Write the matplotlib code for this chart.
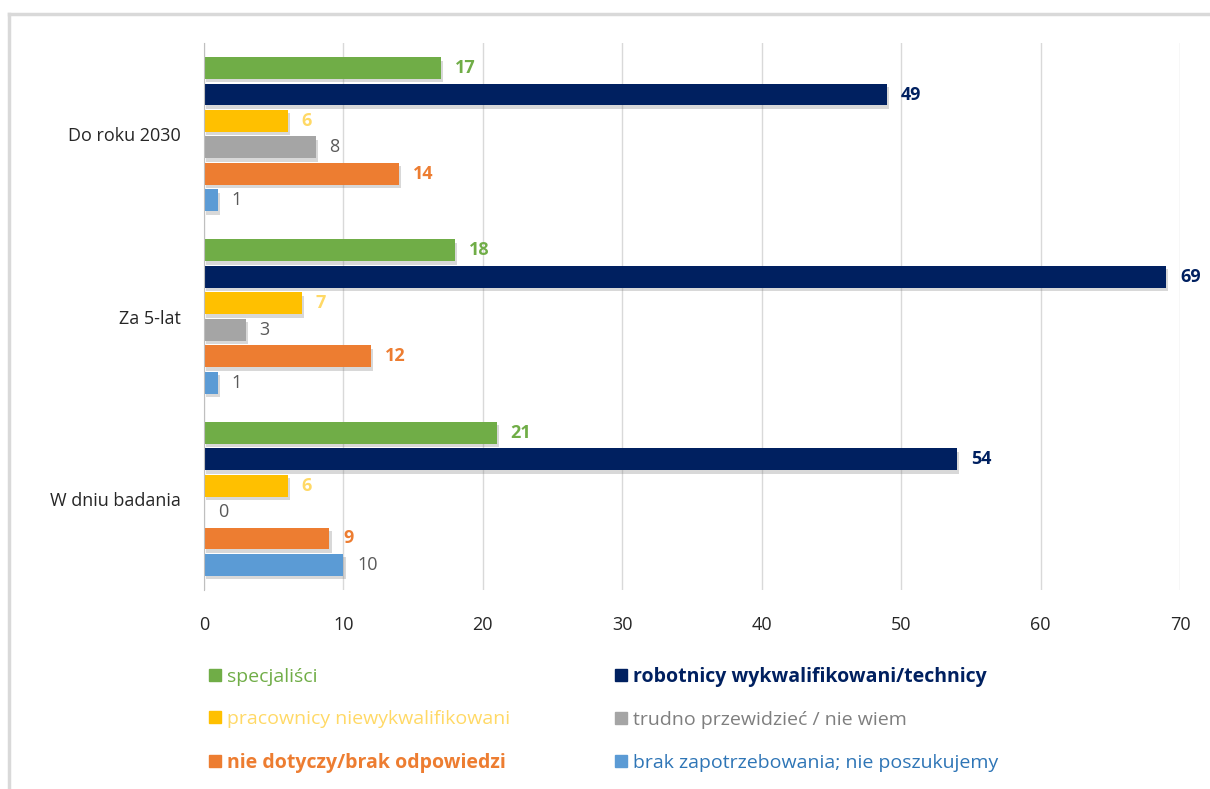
import numpy as np
import matplotlib
matplotlib.use('Agg')
import matplotlib.pyplot as plt
import matplotlib.patheffects as pe
from matplotlib.lines import Line2D

plt.rcParams['font.family'] = ['Open Sans', 'DejaVu Sans']

# categories from bottom to top
categories = ["W dniu badania", "Za 5-lat", "Do roku 2030"]

series_names = ["specjaliści", "robotnicy wykwalifikowani/technicy",
                "pracownicy niewykwalifikowani", "trudno przewidzieć / nie wiem",
                "nie dotyczy/brak odpowiedzi", "brak zapotrzebowania; nie poszukujemy"]
specjalisci = [21, 18, 17]
robotnicy = [54, 69, 49]
pracownicy = [6, 7, 6]
trudno = [0, 3, 8]
nie_dotyczy = [9, 12, 14]
brak = [10, 1, 1]
values = [specjalisci, robotnicy, pracownicy, trudno, nie_dotyczy, brak]

bar_colors = ["#70AD47", "#002060", "#FFC000", "#A5A5A5", "#ED7D31", "#5B9BD5"]
label_colors = ["#70AD47", "#002060", "#FFD966", "#595959", "#ED7D31", "#595959"]
label_bold = [True, True, True, False, True, False]
legend_colors = ["#70AD47", "#002060", "#FFD966", "#7F7F7F", "#ED7D31", "#2E75B6"]

fig = plt.figure(figsize=(12.1, 7.89), dpi=100)
ax = fig.add_axes([204/1210, 1 - 590/789, (1180 - 204)/1210, (590 - 43)/789])

# grey frame around chart (top and left visible)
fig.add_artist(Line2D([9/1210, 1], [1 - 14/789, 1 - 14/789], color="#D9D9D9", lw=2.5))
fig.add_artist(Line2D([9/1210, 9/1210], [0, 1 - 14/789], color="#D9D9D9", lw=2.5))

pitch = 0.145
height = 0.12
y = np.arange(len(categories))
shadow = [pe.SimplePatchShadow(offset=(1.5, -2.5), shadow_rgbFace="#7F7F7F", alpha=0.3), pe.Normal()]

for i, vals in enumerate(values):
    pos = y + (2.5 - i) * pitch
    bars = ax.barh(pos, vals, height=height, color=bar_colors[i], zorder=3)
    for b in bars:
        b.set_path_effects(shadow)
    for p, v in zip(pos, vals):
        ax.annotate(str(v), (v, p), xytext=(10, 0), textcoords="offset points",
                    va="center", ha="left", fontsize=13, color=label_colors[i],
                    fontweight="bold" if label_bold[i] else "normal")

ax.set_xlim(0, 70)
ax.set_ylim(-0.5, 2.5)
ax.set_xticks(range(0, 71, 10))
ax.set_yticks(y)
ax.set_yticklabels(categories)
ax.tick_params(axis="both", length=0, labelsize=13, labelcolor="#262626")
ax.tick_params(axis="x", pad=19)
ax.tick_params(axis="y", pad=17)
ax.grid(axis="x", color="#D9D9D9", lw=1, zorder=0)
for s in ["top", "right", "bottom"]:
    ax.spines[s].set_visible(False)
ax.spines["left"].set_color("#BFBFBF")
ax.spines["left"].set_zorder(4)

# legend: two columns, filled column-wise
order = [0, 2, 4, 1, 3, 5]
handles = [Line2D([], [], marker="s", linestyle="none", markersize=8,
                  color=bar_colors[k]) for k in order]
leg = ax.legend(handles, [series_names[k] for k in order], ncol=2,
                loc="upper left", bbox_to_anchor=(-0.012, -0.108), frameon=False,
                fontsize=14, handlelength=0.55, handletextpad=0.35,
                labelspacing=1.26, columnspacing=5.4)
for txt, k in zip(leg.get_texts(), order):
    txt.set_color(legend_colors[k])
    if k in (1, 4):
        txt.set_fontweight("bold")

fig.savefig("out.png", dpi=100)
